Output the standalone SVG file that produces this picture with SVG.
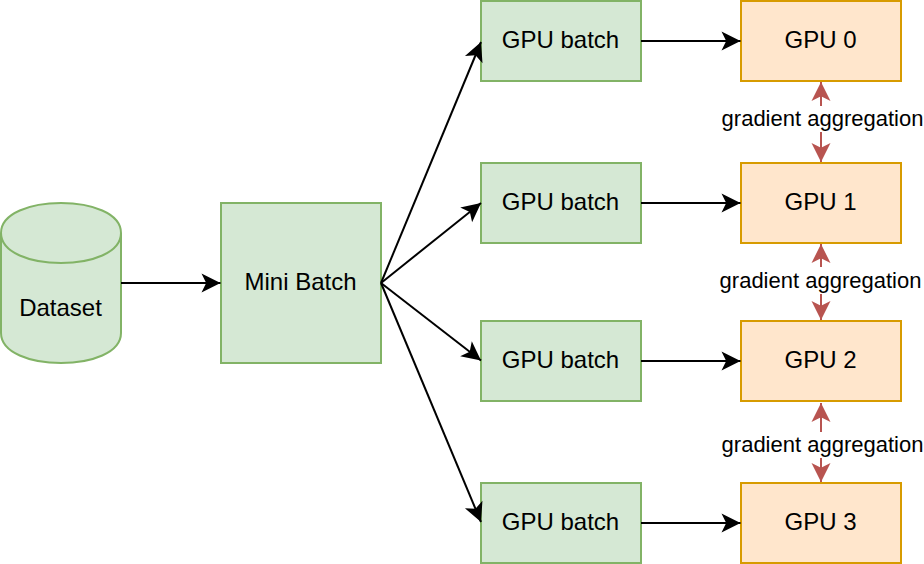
<svg xmlns="http://www.w3.org/2000/svg" width="924" height="564" viewBox="0 0 924 564">
<style>
.g{fill:#d5e8d4;stroke:#82b366;stroke-width:2}
.o{fill:#ffe6cc;stroke:#d79b00;stroke-width:2}
text{font-family:"Liberation Sans",Arial,sans-serif;font-size:24px;fill:#000;text-anchor:middle}
.l{font-size:22px}
.k{fill:none;stroke:#000;stroke-width:2}
.r{fill:none;stroke:#b85450;stroke-width:2}
</style>
<defs>
<marker id="ak" markerUnits="userSpaceOnUse" markerWidth="22" markerHeight="22" viewBox="-20 -11 22 22" refX="0" refY="0" orient="auto"><path d="M-19,-9.5 L0,0 L-19,9.5 L-14.3,0 Z" fill="#000"/></marker>
<marker id="ar" markerUnits="userSpaceOnUse" markerWidth="22" markerHeight="22" viewBox="-20 -11 22 22" refX="0" refY="0" orient="auto"><path d="M-19,-9.5 L0,0 L-19,9.5 L-14.3,0 Z" fill="#b85450"/></marker>
</defs>
<rect width="924" height="564" fill="#fff"/>
<g id="dataset"><path class="g" d="M1,233C1,193 121,193 121,233V333C121,373 1,373 1,333Z"/><path class="g" style="fill:none" d="M1,233C1,273 121,273 121,233"/><text x="60.5" y="316">Dataset</text></g>
<g id="mini-batch"><rect class="g" x="221" y="203" width="160" height="160"/><text x="300.5" y="290">Mini Batch</text></g>
<g id="batch-0"><rect class="g" x="481" y="1" width="160" height="80"/><text x="560.5" y="48">GPU batch</text></g>
<g id="batch-1"><rect class="g" x="481" y="163" width="160" height="80"/><text x="560.5" y="210">GPU batch</text></g>
<g id="batch-2"><rect class="g" x="481" y="321" width="160" height="80"/><text x="560.5" y="368">GPU batch</text></g>
<g id="batch-3"><rect class="g" x="481" y="483" width="160" height="80"/><text x="560.5" y="530">GPU batch</text></g>
<g id="gpu-0"><rect class="o" x="741" y="1" width="160" height="80"/><text x="820.5" y="48">GPU 0</text></g>
<g id="gpu-1"><rect class="o" x="741" y="163" width="160" height="80"/><text x="820.5" y="210">GPU 1</text></g>
<g id="gpu-2"><rect class="o" x="741" y="321" width="160" height="80"/><text x="820.5" y="368">GPU 2</text></g>
<g id="gpu-3"><rect class="o" x="741" y="483" width="160" height="80"/><text x="820.5" y="530">GPU 3</text></g>
<g id="connectors">
<path class="k" marker-end="url(#ak)" d="M121,283H220.5"/>
<path class="k" marker-end="url(#ak)" d="M381,283L481,42"/>
<path class="k" marker-end="url(#ak)" d="M381,283L481,203"/>
<path class="k" marker-end="url(#ak)" d="M381,283L481,360.5"/>
<path class="k" marker-end="url(#ak)" d="M381,283L481,522"/>
<path class="k" marker-end="url(#ak)" d="M641,41H740.5"/>
<path class="k" marker-end="url(#ak)" d="M641,203H740.5"/>
<path class="k" marker-end="url(#ak)" d="M641,361H740.5"/>
<path class="k" marker-end="url(#ak)" d="M641,523H740.5"/>
<path class="r" marker-end="url(#ar)" d="M821,106V82"/>
<path class="r" marker-end="url(#ar)" d="M821,132V162"/>
<path class="r" marker-end="url(#ar)" d="M821,267V244"/>
<path class="r" marker-end="url(#ar)" d="M821,294V320"/>
<path class="r" marker-end="url(#ar)" d="M821,432V403"/>
<path class="r" marker-end="url(#ar)" d="M821,458V482"/>
</g>
<g id="labels">
<text class="l" x="822.5" y="126">gradient aggregation</text>
<text class="l" x="820.5" y="288">gradient aggregation</text>
<text class="l" x="822.5" y="452">gradient aggregation</text>
</g>
</svg>
